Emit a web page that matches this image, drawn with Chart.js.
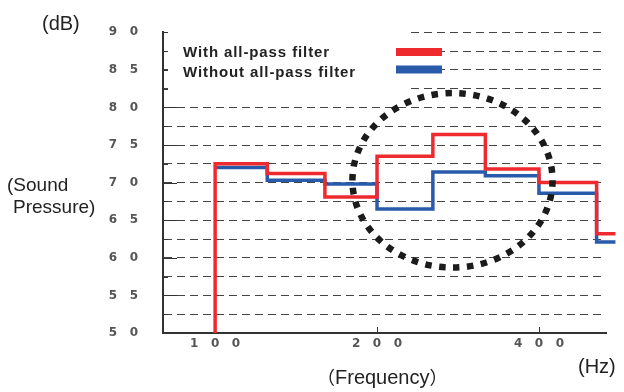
<!DOCTYPE html>
<html>
<head>
<meta charset="utf-8">
<script src="https://cdn.jsdelivr.net/npm/chart.js@4.4.1/dist/chart.umd.min.js"></script>
<style>
  html, body { margin: 0; padding: 0; background: #fff; }
</style>
</head>
<body>
<canvas id="chart" width="624" height="392"></canvas>
<script>
// 1/3-octave band lower edges (Hz), last entry = where the line stops
const bandEdges = [100, 125, 160, 200, 254, 318, 400, 512, 555];
const withFilter = [72.5, 71.2, 68.1, 73.5, 76.4, 71.8, 70.0, 63.2];
const withoutFilter = [72.0, 70.3, 69.8, 66.5, 71.4, 70.9, 68.6, 62.1];

const freqTicks = [100, 200, 400];
const freqMin = 80, freqMax = 533;
const dbMin = 50, dbMax = 90, dbStep = 2.5;

// dotted ring around the interesting bands (data units)
const highlight = { fromHz: 180, toHz: 424, lowDb: 58.7, highDb: 81.9 };

const RED = '#EF2A2F';
const BLUE = '#2A5AAA';

function toSteps(values) {
    return bandEdges.map((f, i) => ({ x: f, y: values[Math.min(i, values.length - 1)] }));
}

const spaced = v => String(v).split('').join('   ');

const decorations = {
    id: 'decorations',
    beforeDatasetsDraw(chart) {
        const ctx = chart.ctx;
        const { left, bottom } = chart.chartArea;
        const ys = chart.scales.y, xs = chart.scales.x;
        ctx.save();
        ctx.strokeStyle = '#333';
        ctx.lineWidth = 1;
        // короткие засечки внутрь графика
        ys.ticks.forEach(t => {
            const y = Math.round(ys.getPixelForValue(t.value)) + 0.5;
            const len = t.value % 5 === 0 ? 14 : 5;
            ctx.beginPath();
            ctx.moveTo(left, y);
            ctx.lineTo(left + len, y);
            ctx.stroke();
        });
        xs.ticks.forEach(t => {
            const x = Math.round(xs.getPixelForValue(t.value)) + 0.5;
            ctx.beginPath();
            ctx.moveTo(x, bottom);
            ctx.lineTo(x, bottom - 6);
            ctx.stroke();
        });
        // white box behind the legend
        ctx.fillStyle = '#fff';
        ctx.fillRect(168, 31, 238, 58);
        ctx.restore();
    },
    afterDatasetsDraw(chart) {
        const ctx = chart.ctx;
        const xs = chart.scales.x, ys = chart.scales.y;
        ctx.save();
        // dotted ellipse
        const x1 = xs.getPixelForValue(highlight.fromHz);
        const x2 = xs.getPixelForValue(highlight.toHz);
        const y1 = ys.getPixelForValue(highlight.highDb);
        const y2 = ys.getPixelForValue(highlight.lowDb);
        ctx.beginPath();
        ctx.ellipse((x1 + x2) / 2, (y1 + y2) / 2, (x2 - x1) / 2, (y2 - y1) / 2, 0, 0, Math.PI * 2);
        ctx.strokeStyle = '#1b1b1b';
        ctx.lineWidth = 6.5;
        ctx.setLineDash([6.5, 7.5]);
        ctx.stroke();
        ctx.setLineDash([]);

        // legend: text, then a colour bar
        ctx.font = 'bold 15px "Liberation Sans", Arial, sans-serif';
        ctx.letterSpacing = '0.9px';
        ctx.fillStyle = '#222';
        ctx.textBaseline = 'alphabetic';
        ctx.textAlign = 'left';
        chart.data.datasets.forEach((ds, i) => {
            ctx.fillText(ds.label, 183, 57 + i * 20);
            ctx.fillStyle = ds.borderColor;
            ctx.fillRect(396, 48 + i * 17.5, 46, 8);
            ctx.fillStyle = '#222';
        });
        ctx.restore();
    },
    afterDraw(chart) {
        const ctx = chart.ctx;
        ctx.save();
        ctx.fillStyle = '#222';
        ctx.font = '20px "Liberation Sans", Arial, sans-serif';
        ctx.textBaseline = 'alphabetic';
        ctx.textAlign = 'left';
        ctx.fillText('(dB)', 42, 30);
        ctx.font = '19px "Liberation Sans", Arial, sans-serif';
        ctx.fillText('(Sound', 7, 191);
        ctx.fillText('Pressure)', 13, 213);
        ctx.font = '20px "Liberation Sans", Arial, sans-serif';
        ctx.fillText('(Hz)', 578, 373);
        // full-width brackets round the x title
        const cjk = '18px "Noto Sans CJK JP", sans-serif';
        const latin = '20px "Liberation Sans", Arial, sans-serif';
        let x = 317;
        ctx.font = cjk;
        ctx.fillText('（', x, 384);
        x += ctx.measureText('（').width;
        ctx.font = latin;
        ctx.fillText('Frequency', x, 384);
        x += ctx.measureText('Frequency').width;
        ctx.font = cjk;
        ctx.fillText('）', x, 384);
        ctx.restore();
    }
};

const tickFont = { family: '"DejaVu Sans", sans-serif', size: 12, weight: 'bold' };

new Chart(document.getElementById('chart'), {
    type: 'line',
    data: {
        datasets: [{
            label: 'With all-pass filter',
            data: [{ x: bandEdges[0], y: dbMin }].concat(toSteps(withFilter)),
            borderColor: RED,
            borderWidth: 3.5,
            stepped: 'before',
            pointRadius: 0,
            fill: false,
            clip: false
        }, {
            label: 'Without all-pass filter',
            data: toSteps(withoutFilter),
            borderColor: BLUE,
            borderWidth: 3.5,
            stepped: 'before',
            pointRadius: 0,
            fill: false,
            clip: false
        }]
    },
    options: {
        responsive: false,
        animation: false,
        layout: { padding: { top: 25, right: 18, left: 0, bottom: 0 } },
        plugins: {
            legend: { display: false },
            tooltip: { enabled: false }
        },
        scales: {
            x: {
                type: 'logarithmic',
                min: freqMin,
                max: freqMax,
                afterBuildTicks: s => { s.ticks = freqTicks.map(v => ({ value: v })); },
                afterFit: s => { s.height = 59; },
                grid: { display: false, drawTicks: false },
                border: { display: true, color: '#333', width: 2 },
                ticks: {
                    autoSkip: false,
                    maxRotation: 0,
                    padding: 4,
                    color: '#555',
                    font: tickFont,
                    callback: v => spaced(v)
                }
            },
            y: {
                min: dbMin,
                max: dbMax,
                afterFit: s => { s.width = 163; },
                grid: { color: '#444', lineWidth: 1, drawTicks: false },
                border: { display: true, color: '#333', width: 2, dash: [8, 5] },
                ticks: {
                    stepSize: dbStep,
                    autoSkip: false,
                    padding: 25,
                    color: '#555',
                    font: tickFont,
                    callback: v => (v % 5 === 0 ? spaced(v) : '')
                }
            }
        }
    },
    plugins: [decorations]
});
</script>
</body>
</html>
